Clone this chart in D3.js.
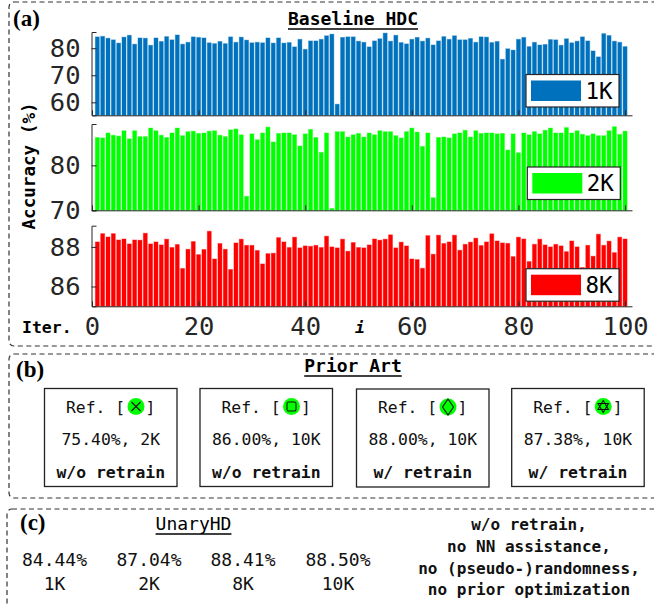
<!DOCTYPE html>
<html lang="en">
<head>
  <meta charset="UTF-8">
  <title>Accuracy comparison</title>
  <script src="https://d3js.org/d3.v7.min.js"></script>
  <style>
    html, body { margin: 0; padding: 0; background: #fff; overflow: hidden; }
    svg { display: block; }
    text { font-family: "DejaVu Sans Mono", monospace; }
    .axis text { font-size: 25.5px; fill: #262626; font-family: "DejaVu Sans Mono", monospace; }
    .axis path, .axis line { stroke: #262626; stroke-width: 1px; }
    .head { font-size: 18px; font-weight: bold; fill: #000; text-anchor: middle; }
    .panel { font-family: "Liberation Serif", serif; font-size: 23px; font-weight: bold; fill: #000; }
    .card { font-size: 16.4px; fill: #111; }
    .dash { fill: none; stroke: #333; stroke-width: 1.2px; stroke-dasharray: 5 3.5; }
  </style>
</head>
<body>
  <svg id="chart" width="654" height="607"></svg>
  <script>
    const iterations = d3.range(1, 101);

    const acc1k = [84.2,84.4,83.7,83.1,81.9,84.1,84.8,81.5,83.8,83.7,81.1,83.8,82.5,84.3,83.1,84.9,81.5,82.2,84.2,84.0,
      83.8,82.0,81.7,82.5,81.7,84.2,82.2,84.1,83.0,82.0,82.2,82.0,83.8,81.9,83.8,81.9,82.1,80.5,83.3,79.6,
      82.7,82.7,83.3,84.6,85.2,59.3,84.0,84.2,84.2,82.6,82.2,80.5,82.7,83.5,85.6,82.6,84.8,82.1,81.6,83.3,
      84.0,82.6,83.7,81.2,82.7,84.3,83.3,84.6,83.1,83.1,83.6,82.2,84.2,84.1,82.1,82.5,75.9,79.8,79.3,83.3,
      84.0,80.6,82.2,81.2,81.4,83.2,83.1,81.1,83.5,82.0,82.6,84.2,82.7,79.0,76.8,85.4,84.7,82.6,82.2,80.6];

    const acc2k = [86.2,86.1,87.2,86.7,86.5,87.7,85.9,87.7,86.4,86.4,88.3,87.7,86.7,86.2,87.2,88.3,86.6,87.5,87.6,87.1,
      87.2,87.6,87.7,86.7,86.4,87.9,88.1,86.8,73.1,87.0,85.7,87.2,88.5,85.2,87.1,87.2,87.2,86.8,84.3,87.0,
      88.0,86.2,82.9,87.2,70.4,87.5,87.5,86.3,86.8,87.1,86.3,87.2,86.8,87.7,87.5,87.5,86.6,86.1,87.5,88.3,
      87.4,84.2,87.2,72.8,86.2,86.3,86.1,87.0,87.2,87.8,86.3,87.7,87.1,87.2,87.2,87.0,87.1,83.4,87.0,82.8,
      87.2,86.8,87.5,87.0,87.8,88.3,87.2,87.2,88.4,87.2,87.7,86.9,86.6,87.0,86.6,86.6,87.7,88.6,86.9,87.6];

    const acc8k = [88.25,88.67,88.50,88.67,88.35,88.40,88.15,88.35,88.34,88.69,88.15,88.25,88.10,88.39,87.97,88.12,86.91,87.88,88.27,87.61,
      87.87,88.79,87.39,88.17,87.88,86.86,88.20,88.39,88.08,88.08,87.82,87.14,87.66,87.68,88.47,88.25,87.97,88.49,87.95,88.05,
      88.03,88.08,87.97,88.54,88.00,87.95,88.39,87.78,88.22,87.97,87.95,88.10,88.40,88.34,88.39,88.61,87.95,88.24,88.05,87.39,
      87.36,86.92,88.57,87.63,88.59,88.17,88.25,88.59,87.83,88.13,88.24,88.44,88.07,88.25,88.66,88.30,88.20,88.18,87.51,88.49,
      88.40,87.26,88.13,88.39,88.10,88.00,88.13,88.05,87.76,88.30,88.00,86.96,88.08,87.53,88.64,88.08,88.29,87.71,88.49,88.40];

    const xTicks = [0, 20, 40, 60, 80, 100];

    const priorRefs = ['x', 'square', 'diamond', 'hexagram'];
    const priorResults = ['75.40%, 2K', '86.00%, 10K', '88.00%, 10K', '87.38%, 10K'];
    const priorRetrain = ['w/o retrain', 'w/o retrain', 'w/ retrain', 'w/ retrain'];

    const unaryAcc = ['84.44%', '87.04%', '88.41%', '88.50%'];
    const unaryDims = ['1K', '2K', '8K', '10K'];
    const unaryNotes = ['w/o retrain,', 'no NN assistance,', 'no (pseudo-)randomness,', 'no prior optimization'];

    const svg = d3.select('#chart');

    // dashed group outlines, the right side runs off the page like in the original
    [[9, 2, 660, 344], [9, 354, 660, 144], [7, 509, 660, 120]].forEach(b => {
      svg.append('rect').attr('class', 'dash')
        .attr('x', b[0]).attr('y', b[1]).attr('width', b[2]).attr('height', b[3])
        .attr('rx', 5);
    });

    const x = d3.scaleLinear().domain([0, 101.3]).range([92, 632]);

    function barPanel(values, color, domain, yTicks, top, bottom, legend, label, showX) {
      const y = d3.scaleLinear().domain(domain).range([bottom, top]);
      const g = svg.append('g');

      g.selectAll('rect').data(values).enter().append('rect')
        .attr('x', (d, i) => x(iterations[i]) - 2)
        .attr('width', 4)
        .attr('y', d => y(d))
        .attr('height', d => bottom - y(d))
        .attr('fill', color)
        .attr('stroke', color)
        .attr('stroke-opacity', 0.35)
        .attr('stroke-width', 1);

      const yAxis = d3.axisLeft(y).tickValues(yTicks).tickSize(-5).tickPadding(11).tickFormat(d3.format('d'));
      g.append('g').attr('class', 'axis').attr('transform', 'translate(91.5,0)').call(yAxis);

      const xAxis = d3.axisBottom(x).tickValues(xTicks).tickSize(-5).tickSizeOuter(0).tickPadding(11);
      if (!showX) xAxis.tickFormat('');
      g.append('g').attr('class', 'axis').attr('transform', `translate(0,${bottom})`).call(xAxis);

      // legend box
      const lg = svg.append('g').attr('transform', `translate(${legend[0]},${legend[1]})`);
      lg.append('rect').attr('width', 93).attr('height', 32.5)
        .attr('fill', '#fff').attr('stroke', '#262626').attr('stroke-width', 1.2);
      lg.append('rect').attr('x', 5).attr('y', 6).attr('width', 50).attr('height', 20.5).attr('fill', color);
      lg.append('text').attr('x', 59.5).attr('y', 24).attr('font-size', 22.5).attr('fill', '#000').text(label);
    }

    barPanel(acc1k, '#0072bd', [55.2, 86], [60, 70, 80], 32, 115.3, [526, 74.5], '1K', false);
    barPanel(acc2k, '#00ff00', [70, 89.2], [70, 80], 124, 210.3, [527.3, 167], '2K', false);
    barPanel(acc8k, '#ff0000', [85, 89.07], [86, 88], 225.7, 306.3, [526, 268.7], '8K', true);

    svg.append('text').attr('transform', 'translate(35,166) rotate(-90)')
      .attr('text-anchor', 'middle').attr('font-size', 17.6).attr('font-weight', 'bold').text('Accuracy (%)');
    svg.append('text').attr('x', 22).attr('y', 333).attr('font-size', 16.5).attr('font-weight', 'bold').text('Iter.');
    svg.append('text').attr('x', 355).attr('y', 333).attr('font-size', 16.5)
      .attr('font-weight', 'bold').attr('font-style', 'italic').text('i');

    svg.append('text').attr('class', 'panel').attr('x', 13).attr('y', 26).text('(a)');
    svg.append('text').attr('class', 'panel').attr('x', 16).attr('y', 377).text('(b)');
    svg.append('text').attr('class', 'panel').attr('x', 20).attr('y', 530).text('(c)');

    function heading(label, cx, baseline, size, weight) {
      const t = svg.append('text').attr('class', 'head').attr('x', cx).attr('y', baseline)
        .style('font-size', size + 'px').style('font-weight', weight).text(label);
      const w = t.node().getComputedTextLength();
      svg.append('line').attr('x1', cx - w / 2).attr('x2', cx + w / 2)
        .attr('y1', baseline + 4).attr('y2', baseline + 4)
        .attr('stroke', '#000').attr('stroke-width', 1.5);
    }
    heading('Baseline HDC', 353, 25, 18, 'bold');
    heading('Prior Art', 353, 372, 18, 'bold');
    heading('UnaryHD', 193.5, 530, 18, 'normal');

    // prior art cards
    const cardX = [44.5, 200, 356.5, 511.7];
    const cardY = [388.5, 388.5, 389, 388.5];
    const markGreen = '#00ff00';

    function drawRef(g, kind, cx, cy) {
      g.append('circle').attr('cx', cx).attr('cy', cy).attr('r', 8.5).attr('fill', markGreen);
      const s = g.append('g').attr('transform', `translate(${cx},${cy})`)
        .attr('fill', 'none').attr('stroke', '#111').attr('stroke-width', 1.1);
      if (kind === 'x') {
        s.append('path').attr('d', 'M-4.5,-4.5L4.5,4.5M-4.5,4.5L4.5,-4.5');
      } else if (kind === 'square') {
        s.append('rect').attr('x', -4.5).attr('y', -4.5).attr('width', 9).attr('height', 9).attr('rx', 1.5);
      } else if (kind === 'diamond') {
        s.append('path').attr('d', 'M0,-8L5.5,0L0,8L-5.5,0Z');
      } else {
        s.append('path').attr('d', 'M0,-6L5.2,3L-5.2,3ZM0,6L5.2,-3L-5.2,-3Z');
      }
    }

    priorRefs.forEach((kind, i) => {
      const g = svg.append('g');
      const bx = cardX[i], by = cardY[i];
      g.append('rect').attr('x', bx).attr('y', by).attr('width', 132.5).attr('height', 98)
        .attr('fill', '#fff').attr('stroke', '#222').attr('stroke-width', 1.3);
      const mid = bx + 66.25;
      g.append('text').attr('class', 'card').attr('x', bx + 21.5).attr('y', by + 24).text('Ref. [');
      drawRef(g, kind, bx + 91.5, by + 18);
      g.append('text').attr('class', 'card').attr('x', bx + 101).attr('y', by + 24).text(']');
      g.append('text').attr('class', 'card').attr('x', mid).attr('y', by + 56)
        .attr('text-anchor', 'middle').text(priorResults[i]);
      g.append('text').attr('class', 'card').attr('x', mid).attr('y', by + 89)
        .attr('text-anchor', 'middle').style('font-weight', 'bold').text(priorRetrain[i]);
    });

    // unary results
    const unaryX = [54.5, 149, 243, 338];
    unaryAcc.forEach((d, i) => {
      svg.append('text').attr('x', unaryX[i]).attr('y', 565.5).attr('text-anchor', 'middle')
        .attr('font-size', 18).attr('fill', '#111').text(d);
      svg.append('text').attr('x', unaryX[i]).attr('y', 590).attr('text-anchor', 'middle')
        .attr('font-size', 18).attr('fill', '#111').text(unaryDims[i]);
    });

    unaryNotes.forEach((d, i) => {
      svg.append('text').attr('x', 529).attr('y', 530 + i * 21.8).attr('text-anchor', 'middle')
        .attr('font-size', 16).attr('font-weight', 'bold').attr('fill', '#111').text(d);
    });
  </script>
</body>
</html>
